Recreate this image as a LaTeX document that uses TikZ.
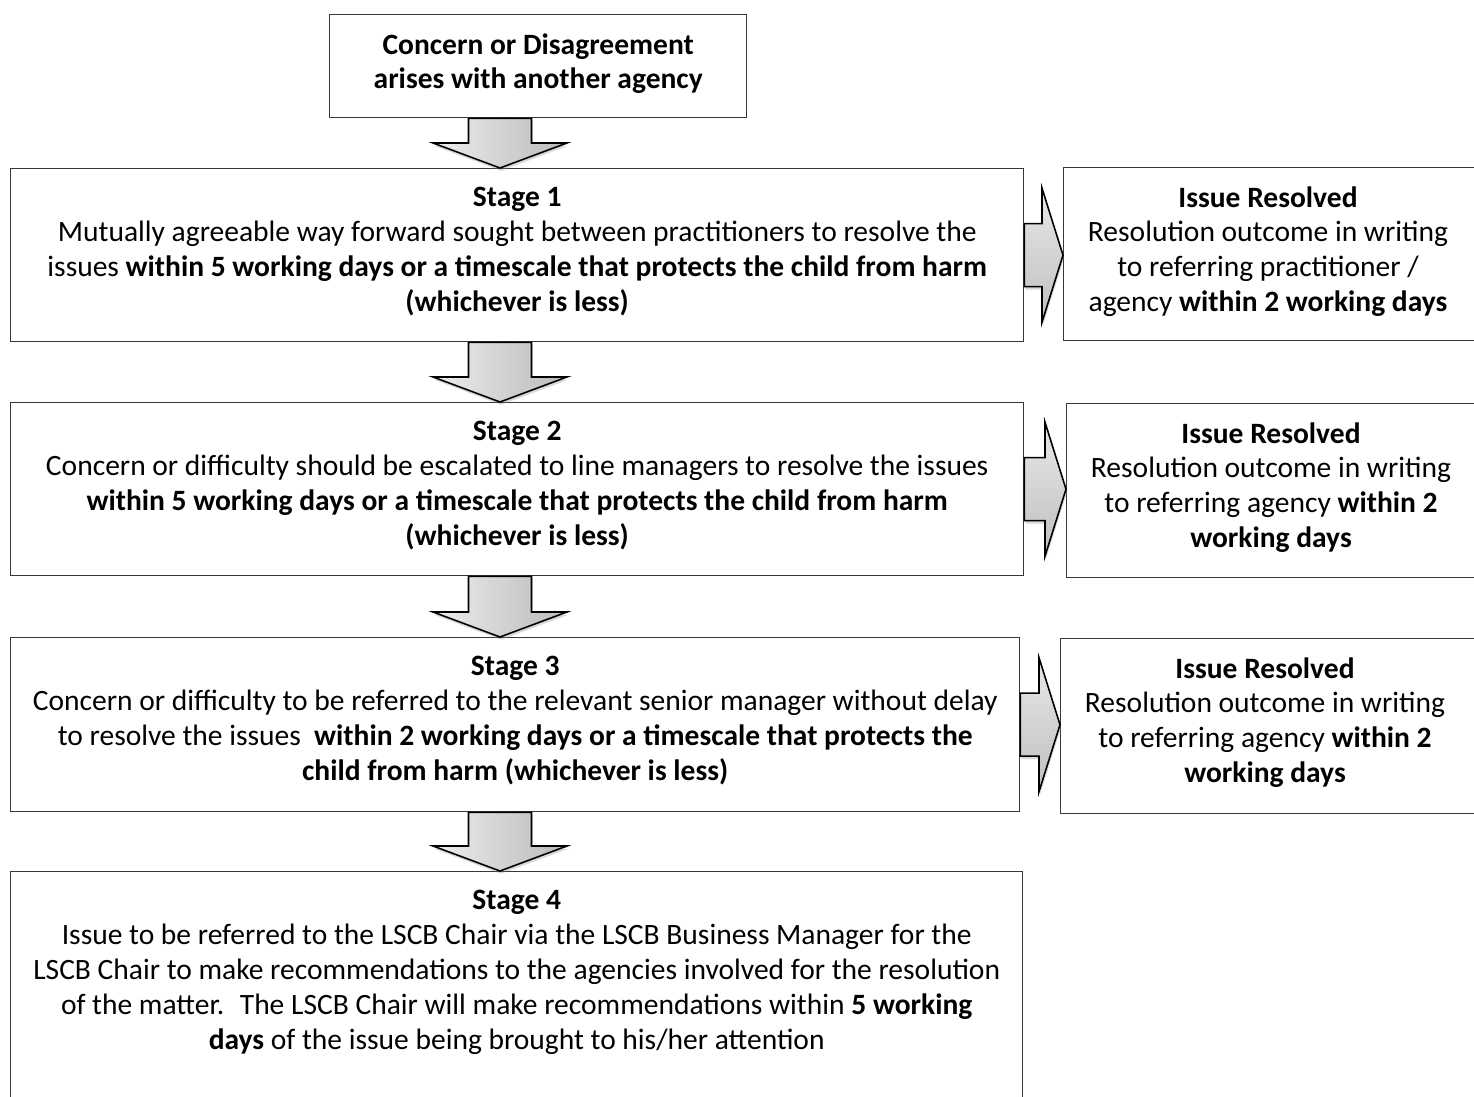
\documentclass[tikz,border=0pt]{standalone}
\usepackage{fontspec}
\setmainfont{Carlito}
\usetikzlibrary{calc,positioning,shadows}

\tikzset{
  box/.style={draw=black!78, line width=0.8pt, fill=white, inner sep=0pt, anchor=north west},
  boxtext/.style={anchor=north, align=center, inner sep=0pt, font=\fontsize{16.8}{19.85}\selectfont},
  blockdown/.style={draw=black, line width=0.9pt, left color=black!7, right color=black!27,
    drop shadow={shadow xshift=0.6pt, shadow yshift=-1.6pt, opacity=0.3}},
  blockright/.style={draw=black, line width=0.9pt, top color=black!9, bottom color=black!25,
    drop shadow={shadow xshift=0.6pt, shadow yshift=-1.6pt, opacity=0.3}}
}
\def\px{0.02cm}
\def\downblock(#1)(#2){\draw[blockdown] ($(#1)+(-31.5,0)$) -- ($(#2)+(-31.5,-25)$) -- ($(#2)+(-67,-25)$) -- (#2) -- ($(#2)+(67,-25)$) -- ($(#2)+(31.5,-25)$) -- ($(#1)+(31.5,0)$) -- cycle;}
\def\rightblock(#1)(#2){\draw[blockright] ($(#1)+(0,-31.5)$) -- ($(#2)+(-21,-31.5)$) -- ($(#2)+(-21,-67)$) -- (#2) -- ($(#2)+(-21,67)$) -- ($(#2)+(-21,31.5)$) -- ($(#1)+(0,31.5)$) -- cycle;}

\begin{document}
\begin{tikzpicture}[x=0.02cm, y=-0.02cm]
  %%%%% START %%%%%
  \useasboundingbox (0,0) rectangle (1474,1097);
  \clip (0,0) rectangle (1474,1097);

  % boxes
  \node[box, minimum width=417*\px, minimum height=103*\px] (top) at (329,14) {};
  \node[box, minimum width=1013*\px, minimum height=173*\px] (s1) at (10,168) {};
  \node[box, minimum width=1013*\px, minimum height=173*\px] (s2) at (10,402) {};
  \node[box, minimum width=1009*\px, minimum height=174*\px] (s3) at (10,637) {};
  \node[box, minimum width=1012*\px, minimum height=250*\px] (s4) at (10,871) {};
  \node[box, minimum width=420*\px, minimum height=173*\px] (r1) at (1063,167) {};
  \node[box, minimum width=420*\px, minimum height=174*\px] (r2) at (1066,403) {};
  \node[box, minimum width=420*\px, minimum height=175*\px] (r3) at (1060,638) {};

  % texts
  \node[boxtext] (topt) at ($(top.north)+(0,19)$) {\textbf{Concern or Disagreement}\\ \textbf{arises with another agency}};
  \node[boxtext] (s1t) at ($(s1.north)+(0,19)$) {\textbf{Stage 1}\\
    Mutually agreeable way forward sought between practitioners to resolve the\\
    issues \textbf{within 5 working days or a timescale that protects the child from harm}\\
    \textbf{(whichever is less)}};
  \node[boxtext] (s2t) at ($(s2.north)+(0,19)$) {\textbf{Stage 2}\\
    Concern or difficulty should be escalated to line managers to resolve the issues\\
    \textbf{within 5 working days or a timescale that protects the child from harm}\\
    \textbf{(whichever is less)}};
  \node[boxtext] (s3t) at ($(s3.north)+(0,19)$) {\textbf{Stage 3}\\
    Concern or difficulty to be referred to the relevant senior manager without delay\\
    to resolve the issues \ \textbf{within 2 working days or a timescale that protects the}\\
    \textbf{child from harm (whichever is less)}};
  \node[boxtext] (s4t) at ($(s4.north)+(0,19)$) {\textbf{Stage 4}\\
    Issue to be referred to the LSCB Chair via the LSCB Business Manager for the\\
    LSCB Chair to make recommendations to the agencies involved for the resolution\\
    of the matter. \ The LSCB Chair will make recommendations within \textbf{5 working}\\
    \textbf{days} of the issue being brought to his/her attention};
  \node[boxtext] (r1t) at ($(r1.north west)+(205,19)$) {\textbf{Issue Resolved}\\
    Resolution outcome in writing\\
    to referring practitioner /\\
    agency \textbf{within 2 working days}};
  \node[boxtext] (r2t) at ($(r2.north west)+(205,19)$) {\textbf{Issue Resolved}\\
    Resolution outcome in writing\\
    to referring agency \textbf{within 2}\\
    \textbf{working days}};
  \node[boxtext] (r3t) at ($(r3.north west)+(205,19)$) {\textbf{Issue Resolved}\\
    Resolution outcome in writing\\
    to referring agency \textbf{within 2}\\
    \textbf{working days}};

  % block arrows down
  \coordinate (ax) at (500,0);
  \coordinate (a1s) at (top.south -| ax);
  \coordinate (a1e) at (s1.north -| ax);
  \coordinate (a2s) at (s1.south -| ax);
  \coordinate (a2e) at (s2.north -| ax);
  \coordinate (a3s) at (s2.south -| ax);
  \coordinate (a3e) at (s3.north -| ax);
  \coordinate (a4s) at (s3.south -| ax);
  \coordinate (a4e) at (s4.north -| ax);
  \downblock(a1s)(a1e)
  \downblock(a2s)(a2e)
  \downblock(a3s)(a3e)
  \downblock(a4s)(a4e)

  % block arrows right
  \coordinate (b1e) at (r1.west |- s1.east);
  \coordinate (b2e) at (r2.west |- s2.east);
  \coordinate (b3e) at (r3.west |- s3.east);
  \rightblock(s1.east)(b1e)
  \rightblock(s2.east)(b2e)
  \rightblock(s3.east)(b3e)
  %%%%% END %%%%%
\end{tikzpicture}
\end{document}
